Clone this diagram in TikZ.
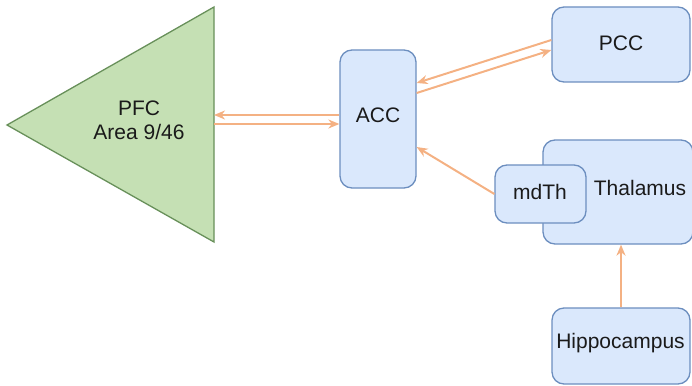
\documentclass[tikz,border=0pt]{standalone}
\usepackage{fontspec}
\setmainfont{Liberation Sans}
\usetikzlibrary{arrows.meta}
\definecolor{boxfill}{HTML}{DAE8FC}
\definecolor{boxline}{HTML}{6C8EBF}
\definecolor{pfcfill}{HTML}{C5E0B4}
\definecolor{pfcline}{HTML}{68905A}
\definecolor{linkc}{HTML}{F4B183}
\definecolor{txt}{HTML}{1A1A1A}
\tikzset{
  region/.style={draw=boxline, fill=boxfill, line width=1.3pt, rectangle,
    rounded corners=12pt, inner sep=0pt, text=txt,
    font=\fontsize{21}{24}\selectfont},
  label/.style={text=txt, inner sep=0pt, align=center,
    font=\fontsize{21}{24}\selectfont},
  link/.style={draw=linkc, line width=2pt,
    -{Stealth[length=11pt,width=9pt,inset=3.5pt]}}
}
\begin{document}
\begin{tikzpicture}[x=1pt,y=-1pt]
  \useasboundingbox (0,0) rectangle (692,385);

  % prefrontal cortex triangle
  \coordinate (pfcA) at (7,125);
  \coordinate (pfcT) at (214,7);
  \coordinate (pfcB) at (214,242);
  \draw[fill=pfcfill, draw=pfcline, line width=1.3pt] (pfcA) -- (pfcT) -- (pfcB) -- cycle;
  \node[label] (pfc) at (139,120) {PFC\\Area 9/46};

  % cortical and subcortical regions
  \node[region, minimum width=76pt, minimum height=138pt] (acc) at (378,119) {};
  \node[label] (acclbl) at (378,115.5) {ACC};
  \node[region, minimum width=138pt, minimum height=75pt] (pcc) at (621,44.5) {};
  \node[label] (pcclbl) at (621,43) {PCC};
  \node[region, minimum width=150pt, minimum height=104pt] (thal) at (618,192) {};
  \node[label] (thallbl) at (640,188) {Thalamus};
  \node[region, minimum width=91pt, minimum height=58pt] (mdth) at (540.5,194) {};
  \node[label] (mdthlbl) at (540,192) {mdTh};
  \node[region, minimum width=138pt, minimum height=76pt] (hip) at (621,346) {};
  \node[label] (hiplbl) at (620.5,343) {Hippocampus};

  % attachment points on the triangle edge
  \coordinate (pfcIn) at (214,115);
  \coordinate (pfcOut) at (214,124);

  % connections
  \draw[link] ([yshift=4pt]acc.west) -- (pfcIn);
  \draw[link] (pfcOut) -- ([yshift=-5pt]acc.west);
  \draw[link] ([yshift=4.5pt]pcc.west) -- ([yshift=36pt]acc.east);
  \draw[link] ([yshift=26pt]acc.east) -- ([yshift=-5.5pt]pcc.west);
  \draw[link] (mdth.west) -- ([yshift=-28pt]acc.east);
  \draw[link] (hip.north) -- (hip.north |- thal.south);
\end{tikzpicture}
\end{document}
